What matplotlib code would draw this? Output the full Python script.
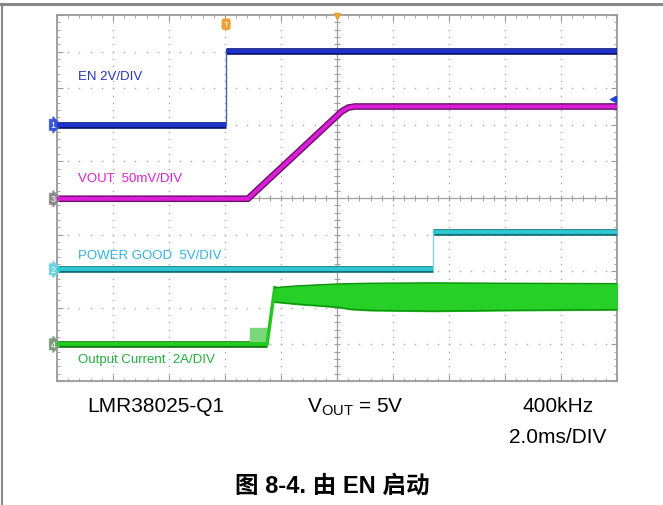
import numpy as np
import matplotlib.pyplot as plt
from matplotlib.lines import Line2D

plt.rcParams['font.family'] = ['Liberation Sans', 'Noto Sans CJK SC']
plt.rcParams['mathtext.fontset'] = 'custom'
plt.rcParams['mathtext.rm'] = 'Liberation Sans'

# Traces, in screen divisions (x: 0..10, y: 0..10)
en_t = [0, 3.02, 3.02, 10]
en_v = [7.0, 7.0, 9.02, 9.02]

vout_t = [0, 3.41, 5.08, 5.2, 5.32, 10]
vout_v = [4.98, 4.98, 7.36, 7.47, 7.5, 7.5]

pg_t = [0, 6.71, 6.71, 10]
pg_v = [3.05, 3.05, 4.07, 4.07]

iout_t = [0, 3.75, 3.89]
iout_v = [1.0, 1.0, 2.55]
bump_t = [3.45, 3.75]
bump_hi = [1.45, 1.45]
band_t = [3.89, 4.3, 5.0, 5.25, 5.6, 6.7, 8.0, 10]
band_hi = [2.55, 2.6, 2.65, 2.66, 2.67, 2.68, 2.67, 2.66]
band_lo = [2.16, 2.1, 2.02, 1.96, 1.93, 1.91, 1.93, 1.95]

labels = ["EN 2V/DIV", "VOUT  50mV/DIV", "POWER GOOD  5V/DIV", "Output Current  2A/DIV"]
label_y = [8.33, 5.55, 3.44, 0.6]
label_colors = ["#2536c0", "#e020d0", "#30b4e0", "#22b040"]

fig = plt.figure(figsize=(6.63, 5.06), dpi=100)
ax = fig.add_axes([57/663, 124/506, 560/663, 366/506])
ax.set_xlim(0, 10)
ax.set_ylim(0, 10)
for s in ax.spines.values():
    s.set_color("#999999")
    s.set_linewidth(1.3)
ax.set_xticks(np.arange(0, 11, 1))
ax.set_yticks(np.arange(0, 11, 1))
ax.set_xticks(np.arange(0, 10.01, 0.2), minor=True)
ax.set_yticks(np.arange(0, 10.01, 0.2), minor=True)
ax.tick_params(which='both', direction='in', top=True, right=True,
               labelbottom=False, labelleft=False, color="#999999")
ax.tick_params(which='major', length=4)
ax.tick_params(which='minor', length=2.5)

# dotted grid
minor = np.arange(0.2, 10, 0.2)
for g in range(1, 10):
    if g == 5:
        continue
    ax.plot([g]*len(minor), minor, ls='none', marker='s', ms=1.0, color="#a8a8a8", mew=0)
    ax.plot(minor, [g]*len(minor), ls='none', marker='s', ms=1.0, color="#a8a8a8", mew=0)
# centre cross with ticks
ax.axhline(5, color="#a0a0a0", lw=0.9)
ax.axvline(5, color="#a0a0a0", lw=0.9)
ax.plot(minor, [5]*len(minor), ls='none', marker='|', ms=4, color="#a0a0a0", mew=0.8)
ax.plot([5]*len(minor), minor, ls='none', marker='_', ms=4, color="#a0a0a0", mew=0.8)


def thick(t, v, core, edge):
    ax.plot(t, v, color=edge, lw=4.8, solid_capstyle='butt', zorder=3)
    ax.plot(t, v, color=core, lw=2.8, solid_capstyle='butt', zorder=4)


# EN
thick(en_t[:2], en_v[:2], "#1f33cc", "#0d1470")
thick(en_t[2:], en_v[2:], "#1f33cc", "#0d1470")
ax.plot(en_t[1:3], en_v[1:3], color="#5060b0", lw=1.0, zorder=3)

# VOUT
thick(vout_t, vout_v, "#dc1ed8", "#6a106a")

# POWER GOOD
thick(pg_t[:2], pg_v[:2], "#2cc8d4", "#0e6f78")
thick(pg_t[2:], pg_v[2:], "#2cc8d4", "#0e6f78")
ax.plot(pg_t[1:3], pg_v[1:3], color="#90d0d8", lw=1.0, zorder=3)

# Output current
thick(iout_t[:2], iout_v[:2], "#22cc22", "#0e7a0e")
ax.plot(iout_t[1:], iout_v[1:], color="#22c822", lw=2.5, zorder=4)
ax.fill_between(bump_t, [iout_v[0]]*2, bump_hi, color="#7ad87a", zorder=3)
ax.fill_between(band_t, band_lo, band_hi, color="#26d026", zorder=3)
ax.plot(band_t, band_hi, color="#0f900f", lw=1.0, zorder=4)
ax.plot(band_t, band_lo, color="#0f900f", lw=1.0, zorder=4)

for txt, y, c in zip(labels, label_y, label_colors):
    ax.text(0.38, y, txt, color=c, fontsize=9.5, va='center', ha='left', zorder=5)

# channel markers on the left edge
tr = ax.get_yaxis_transform()
for num, y, fc in [("1", en_v[0], "#3a55d8"), ("3", vout_v[0], "#8a8a8a"),
                   ("2", pg_v[0], "#6ad4e2"), ("4", iout_v[0], "#7f9a7f")]:
    ax.text(-0.003, y, num, transform=tr, ha='right', va='center', fontsize=6.5,
            color="white", clip_on=False,
            bbox=dict(boxstyle='rarrow,pad=0.12', fc=fc, ec=fc, lw=0.5))

# trigger markers
ax.text(3.02, 9.75, "T", ha='center', va='center', fontsize=5.5, color="white",
        bbox=dict(boxstyle='round,pad=0.2', fc="#f0a030", ec="#f0a030"), zorder=6)
ax.plot([5], [9.97], marker='v', ms=4, color="#f0a030", zorder=6, clip_on=False)
ax.plot([9.93], [7.7], marker='<', ms=4, color="#2040e0", zorder=6)

# frame of the figure
fig.add_artist(Line2D([0, 1], [1 - 5/506, 1 - 5/506], color="#888888", lw=2.2))
fig.add_artist(Line2D([1.5/663, 1.5/663], [0, 1 - 5/506], color="#888888", lw=1.5))

fig.text(87/663, 1 - 407/506, "LMR38025-Q1", fontsize=15, ha='left', va='center')
fig.text(307/663, 1 - 407/506, r"$\mathregular{V_{OUT}}$ = 5V", fontsize=15, ha='left', va='center')
fig.text(558/663, 1 - 407/506, "400kHz", fontsize=15, ha='center', va='center')
fig.text(558/663, 1 - 438/506, "2.0ms/DIV", fontsize=15, ha='center', va='center')
fig.text(332/663, 1 - 486/506, "图 8-4. 由 EN 启动", fontsize=17, fontweight='bold',
         ha='center', va='center')

fig.savefig("out.png", dpi=100)
